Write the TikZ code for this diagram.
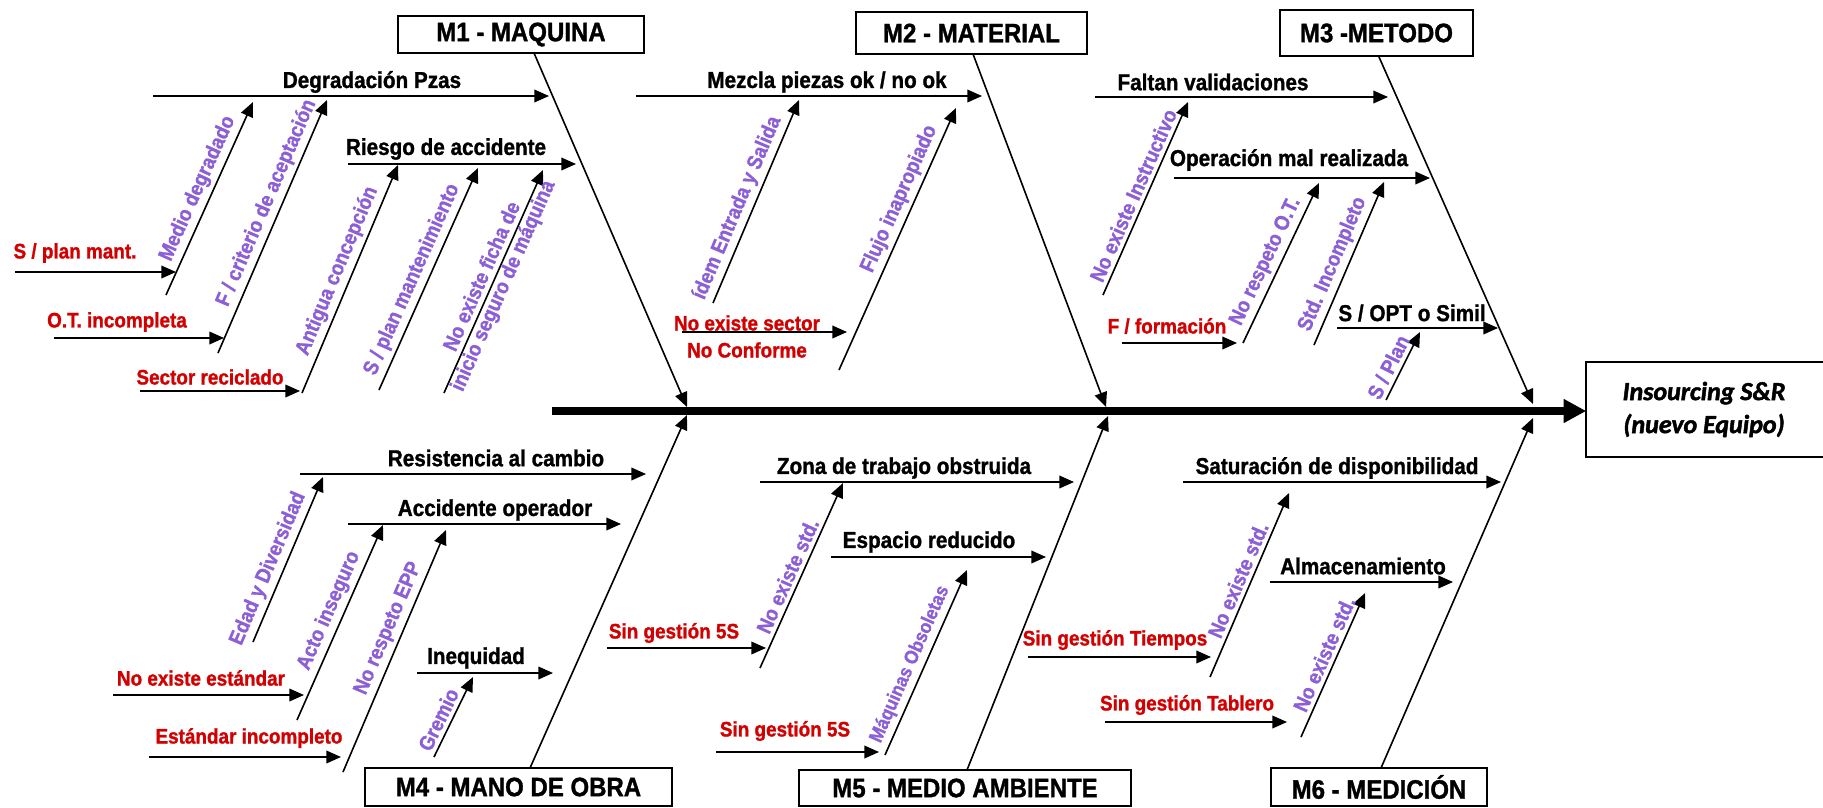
\documentclass[tikz,border=0pt]{standalone}
\usepackage{fontspec}
\setmainfont{Liberation Sans}[FakeStretch=0.9, BoldFeatures={FakeBold=1.2}]
\newfontfamily\carlito{Carlito}[FakeBold=1.8]
\usepackage{tikz}
\usetikzlibrary{arrows.meta}

\definecolor{rojocausa}{RGB}{210,0,0}
\definecolor{moradocausa}{RGB}{140,95,215}

\tikzset{
  caja/.style={draw, line width=1.2pt, inner sep=0pt, font=\fontsize{20}{22}\selectfont\bfseries},
  flecha/.style={line width=1.2pt, -{Triangle[length=11pt,width=9.5pt]}},
  espina/.style={line width=5.8pt, -{Triangle[length=17pt,width=17pt]}},
  causa/.style={font=\fontsize{17.25}{19}\selectfont\bfseries},
  subcausa/.style={text=rojocausa, font=\fontsize{15.75}{17}\selectfont\bfseries},
  motivo/.style={text=moradocausa, font=\fontsize{15.75}{17}\selectfont\bfseries, rotate=#1, anchor=south, inner sep=3pt},
}

\begin{document}
\begin{tikzpicture}[x=0.75pt,y=0.75pt,yscale=-1,xscale=1]
\useasboundingbox (0,0) rectangle (1823,807);

%Shape: Boxes
\node[caja, minimum width=184.5pt, minimum height=27.75pt] (m1) at (521,34.5) {M1 - MAQUINA};
\node[caja, minimum width=173.25pt, minimum height=31.5pt] (m2) at (971.5,33) {M2 - MATERIAL};
\node[caja, minimum width=144.75pt, minimum height=34.5pt] (m3) at (1376.5,33) {M3 -METODO};
\node[caja, minimum width=230.25pt, minimum height=28.5pt] (m4) at (518.5,787) {M4 - MANO DE OBRA};
\node[caja, minimum width=249pt, minimum height=27pt] (m5) at (965,788) {M5 - MEDIO AMBIENTE};
\node[caja, minimum width=162pt, minimum height=28.5pt] (m6) at (1379,787) {M6 - MEDICIÓN};
\node[caja, draw=none, minimum width=175.5pt, minimum height=69.75pt, align=center,
  font=\carlito\fontsize{19.5}{24.75}\selectfont\bfseries\itshape] (efecto) at (1704,409.5) {Insourcing S\&R\\(nuevo Equipo)};
\draw[line width=1.2pt] ([xshift=20pt]efecto.north east) -- (efecto.north west) -- (efecto.south west) -- ([xshift=20pt]efecto.south east);

%Straight Lines: spine
\coordinate (cola) at (552,411);
\draw[espina] (cola) -- (cola -| efecto.west);

%Straight Lines: main bones
\coordinate (h1) at (534,53);   \coordinate (e1) at (687,407);
\coordinate (h2) at (973,54);   \coordinate (e2) at (1106,407);
\coordinate (h3) at (1379,57);  \coordinate (e3) at (1533,404);
\coordinate (h4) at (530,768);  \coordinate (e4) at (687,415);
\coordinate (h5) at (967,770);  \coordinate (e5) at (1108,416);
\coordinate (h6) at (1381,768); \coordinate (e6) at (1533,418);
\draw[flecha] (h1) -- (e1);
\draw[flecha] (h2) -- (e2);
\draw[flecha] (h3) -- (e3);
\draw[flecha] (h4) -- (e4);
\draw[flecha] (h5) -- (e5);
\draw[flecha] (h6) -- (e6);

% ---- M1 - MAQUINA
\coordinate (d1) at (153,96);  \coordinate (d2) at (549,96);
\coordinate (r1) at (348,164); \coordinate (r2) at (576,164);
\draw[flecha] (d1) -- (d2);
\draw[flecha] (r1) -- (r2);
% Text Node
\node[causa] (tdeg) at (372,82) {Degradación Pzas};
% Text Node
\node[causa] (tries) at (446,149) {Riesgo de accidente};

\coordinate (md1) at (166,295); \coordinate (md2) at (253,102);
\coordinate (fc1) at (218,353); \coordinate (fc2) at (327,100);
\coordinate (ac1) at (302,393); \coordinate (ac2) at (398,165);
\coordinate (sp1) at (379,390); \coordinate (sp2) at (478,168);
\coordinate (nf1) at (444,393); \coordinate (nf2) at (543,170);
\draw[flecha] (md1) -- node[motivo=65.7, pos=0.52] (tmed) {Medio degradado} (md2);
\draw[flecha] (fc1) -- node[motivo=66.7, pos=0.57] (tcri) {F / criterio de aceptación} (fc2);
\draw[flecha] (ac1) -- node[motivo=67.2, pos=0.51] (tant) {Antigua concepción} (ac2);
\draw[flecha] (sp1) -- node[motivo=66, pos=0.47] (tspm) {S / plan mantenimiento} (sp2);
\draw[flecha] (nf1) -- node[motivo=66.1, pos=0.5, anchor=center, align=center] (tfic) {No existe ficha de\\inicio seguro de máquina} (nf2);

\coordinate (pm1) at (15,272);  \coordinate (pm2) at (176,272);
\coordinate (ot1) at (54,338);  \coordinate (ot2) at (224,338);
\coordinate (sr1) at (140,391); \coordinate (sr2) at (300,391);
\draw[flecha] (pm1) -- (pm2);
\draw[flecha] (ot1) -- (ot2);
\draw[flecha] (sr1) -- (sr2);
% Text Node
\node[subcausa] (tpm) at (75,253) {S / plan mant.};
\node[subcausa] (tot) at (117,322) {O.T. incompleta};
\node[subcausa] (tsr) at (210,377) {Sector reciclado};

% ---- M2 - MATERIAL
\coordinate (mz1) at (636,96); \coordinate (mz2) at (982,96);
\draw[flecha] (mz1) -- (mz2);
\node[causa] (tmez) at (827,82) {Mezcla piezas ok / no ok};

\coordinate (ie1) at (713,303); \coordinate (ie2) at (799,100);
\coordinate (fi1) at (839,370); \coordinate (fi2) at (956,108);
\draw[flecha] (ie1) -- node[motivo=67, pos=0.44] (tide) {ídem Entrada y Salida} (ie2);
\draw[flecha] (fi1) -- node[motivo=65.9, pos=0.63] (tflu) {Flujo inapropiado} (fi2);

\coordinate (ns1) at (682,332); \coordinate (ns2) at (847,332);
\draw[flecha] (ns1) -- (ns2);
\node[subcausa] (tns) at (747,323) {No existe sector};
\node[subcausa] (tnc) at (747,350) {No Conforme};

% ---- M3 - METODO
\coordinate (fv1) at (1095,97);  \coordinate (fv2) at (1388,97);
\coordinate (om1) at (1174,178); \coordinate (om2) at (1430,178);
\coordinate (so1) at (1337,328); \coordinate (so2) at (1498,328);
\draw[flecha] (fv1) -- (fv2);
\draw[flecha] (om1) -- (om2);
\draw[flecha] (so1) -- (so2);
\node[causa] (tfal) at (1213,82) {Faltan validaciones};
\node[causa] (tope) at (1289,160) {Operación mal realizada};
\node[causa] (topt) at (1412,313) {S / OPT o Simil};

\coordinate (ni1) at (1103,295); \coordinate (ni2) at (1188,102);
\coordinate (nr1) at (1243,343); \coordinate (nr2) at (1319,183);
\coordinate (si1) at (1314,345); \coordinate (si2) at (1384,182);
\coordinate (pl1) at (1386,400); \coordinate (pl2) at (1420,332);
\draw[flecha] (ni1) -- node[motivo=66.2, pos=0.49] (tins) {No existe Instructivo} (ni2);
\draw[flecha] (nr1) -- node[motivo=64.6, pos=0.47] (trot) {No respeto O.T.} (nr2);
\draw[flecha] (si1) -- node[motivo=66.8, pos=0.46] (tstd) {Std. Incompleto} (si2);
\draw[flecha] (pl1) -- node[motivo=63.4, pos=0.4] (tpla) {S / Plan} (pl2);

\coordinate (ff1) at (1122,343); \coordinate (ff2) at (1237,343);
\draw[flecha] (ff1) -- (ff2);
\node[subcausa] (tfor) at (1167,326) {F / formación};

% ---- M4 - MANO DE OBRA
\coordinate (rc1) at (300,474); \coordinate (rc2) at (646,474);
\coordinate (ao1) at (348,524); \coordinate (ao2) at (621,524);
\coordinate (iq1) at (417,673); \coordinate (iq2) at (553,673);
\draw[flecha] (rc1) -- (rc2);
\draw[flecha] (ao1) -- (ao2);
\draw[flecha] (iq1) -- (iq2);
\node[causa] (tres) at (496,458) {Resistencia al cambio};
\node[causa] (tacc) at (495,510) {Accidente operador};
\node[causa] (tine) at (476,658) {Inequidad};

\coordinate (ed1) at (253,642); \coordinate (ed2) at (323,477);
\coordinate (ai1) at (297,720); \coordinate (ai2) at (383,525);
\coordinate (ne1) at (343,772); \coordinate (ne2) at (446,530);
\coordinate (gr1) at (434,757); \coordinate (gr2) at (473,677);
\draw[flecha] (ed1) -- node[motivo=67, pos=0.41] (tedad) {Edad y Diversidad} (ed2);
\draw[flecha] (ai1) -- node[motivo=66.2, pos=0.53] (tact) {Acto inseguro} (ai2);
\draw[flecha] (ne1) -- node[motivo=66.9, pos=0.57] (tepp) {No respeto EPP} (ne2);
\draw[flecha] (gr1) -- node[motivo=64, pos=0.4] (tgre) {Gremio} (gr2);

\coordinate (xe1) at (113,695); \coordinate (xe2) at (304,695);
\coordinate (ei1) at (149,757); \coordinate (ei2) at (341,757);
\draw[flecha] (xe1) -- (xe2);
\draw[flecha] (ei1) -- (ei2);
\node[subcausa] (txe) at (201,678) {No existe estándar};
\node[subcausa] (tei) at (249,738) {Estándar incompleto};

% ---- M5 - MEDIO AMBIENTE
\coordinate (zt1) at (760,482); \coordinate (zt2) at (1074,482);
\coordinate (er1) at (831,557); \coordinate (er2) at (1046,557);
\draw[flecha] (zt1) -- (zt2);
\draw[flecha] (er1) -- (er2);
\node[causa] (tzon) at (904,468) {Zona de trabajo obstruida};
\node[causa] (tesp) at (929,542) {Espacio reducido};

\coordinate (nx1) at (760,668); \coordinate (nx2) at (843,483);
\coordinate (mo1) at (885,755); \coordinate (mo2) at (967,570);
\draw[flecha] (nx1) -- node[motivo=65.8, pos=0.47] (tnx) {No existe std.} (nx2);
\draw[flecha] (mo1) -- node[motivo=66.1, pos=0.46, font=\fontsize{14.5}{16}\selectfont\bfseries] (tmaq) {Máquinas Obsoletas} (mo2);

\coordinate (sg1) at (607,648); \coordinate (sg2) at (766,648);
\coordinate (sh1) at (716,752); \coordinate (sh2) at (879,752);
\draw[flecha] (sg1) -- (sg2);
\draw[flecha] (sh1) -- (sh2);
\node[subcausa] (tsg) at (674,633) {Sin gestión 5S};
\node[subcausa] (tsh) at (785,731) {Sin gestión 5S};

% ---- M6 - MEDICION
\coordinate (sd1) at (1183,482); \coordinate (sd2) at (1501,482);
\coordinate (al1) at (1270,582); \coordinate (al2) at (1453,582);
\draw[flecha] (sd1) -- (sd2);
\draw[flecha] (al1) -- (al2);
\node[causa] (tsat) at (1337,468) {Saturación de disponibilidad};
\node[causa] (talm) at (1363,566) {Almacenamiento};

\coordinate (ny1) at (1210,677); \coordinate (ny2) at (1289,493);
\coordinate (nz1) at (1301,737); \coordinate (nz2) at (1365,593);
\draw[flecha] (ny1) -- node[motivo=66.8, pos=0.5] (tny) {No existe std.} (ny2);
\draw[flecha] (nz1) -- node[motivo=66, pos=0.54] (tnz) {No existe std.} (nz2);

\coordinate (gt1) at (1028,657); \coordinate (gt2) at (1211,657);
\coordinate (gb1) at (1105,722); \coordinate (gb2) at (1287,722);
\draw[flecha] (gt1) -- (gt2);
\draw[flecha] (gb1) -- (gb2);
\node[subcausa] (tgt) at (1115,640) {Sin gestión Tiempos};
\node[subcausa] (tgb) at (1187,705) {Sin gestión Tablero};
\end{tikzpicture}
\end{document}
